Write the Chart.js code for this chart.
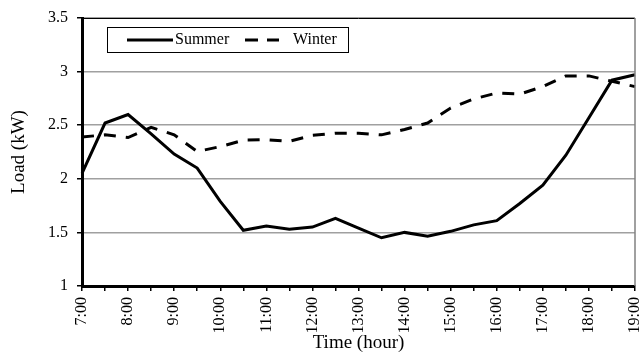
<!DOCTYPE html>
<html>
<head>
<meta charset="utf-8">
<script src="https://cdn.jsdelivr.net/npm/chart.js@4/dist/chart.umd.min.js"></script>
<style>
html,body{margin:0;padding:0;background:#fff;}
#wrap{width:642px;height:354px;position:relative;}
</style>
</head>
<body>
<div id="wrap"><canvas id="c" width="642" height="354"></canvas></div>
<script>
const categories = ["7:00","7:30","8:00","8:30","9:00","9:30","10:00","10:30","11:00","11:30","12:00","12:30","13:00","13:30","14:00","14:30","15:00","15:30","16:00","16:30","17:00","17:30","18:00","18:30","19:00"];
const summer = [2.05,2.52,2.60,2.42,2.23,2.10,1.79,1.52,1.56,1.53,1.55,1.63,1.54,1.45,1.50,1.465,1.51,1.57,1.61,1.77,1.94,2.22,2.57,2.92,2.97];
const winter = [2.39,2.41,2.385,2.48,2.41,2.255,2.30,2.36,2.365,2.35,2.405,2.425,2.425,2.41,2.46,2.52,2.66,2.745,2.80,2.79,2.86,2.96,2.96,2.91,2.86];
const yTicks = [1,1.5,2,2.5,3,3.5];
const seriesNames = ["Summer","Winter"];
const xTitle = "Time (hour)";
const yTitle = "Load (kW)";

const FONT = "'Liberation Serif', 'Times New Roman', serif";

const frame = {
  id: 'frame',
  afterDraw(chart) {
    const {ctx, chartArea: a} = chart;
    ctx.save();
    ctx.strokeStyle = '#000';
    ctx.lineWidth = 1;
    ctx.beginPath();
    ctx.moveTo(a.left, a.top + 0.5);
    ctx.lineTo(a.right, a.top + 0.5);
    ctx.stroke();
    ctx.strokeStyle = '#808080';
    ctx.lineWidth = 1.5;
    ctx.beginPath();
    ctx.moveTo(a.right, a.top);
    ctx.lineTo(a.right, a.bottom);
    ctx.stroke();
    // legend
    const lx = 107, ly = 27, lw = 241, lh = 25;
    ctx.fillStyle = '#fff';
    ctx.fillRect(lx, ly, lw, lh);
    ctx.strokeStyle = '#000';
    ctx.lineWidth = 1;
    ctx.strokeRect(lx + 0.5, ly + 0.5, lw, lh);
    const cy = ly + lh / 2 + 0.5;
    ctx.lineWidth = 3;
    ctx.setLineDash([]);
    ctx.beginPath();
    ctx.moveTo(127, cy); ctx.lineTo(173, cy);
    ctx.stroke();
    ctx.setLineDash([13, 9]);
    ctx.beginPath();
    ctx.moveTo(245, cy); ctx.lineTo(279, cy);
    ctx.stroke();
    ctx.setLineDash([]);
    ctx.fillStyle = '#000';
    ctx.font = "16px " + FONT;
    ctx.textBaseline = 'middle';
    ctx.textAlign = 'left';
    ctx.fillText(seriesNames[0], 175, cy);
    ctx.fillText(seriesNames[1], 293, cy);
    ctx.restore();
  }
};

new Chart(document.getElementById('c'), {
  type: 'line',
  data: {
    labels: categories,
    datasets: [
      {label: seriesNames[1], data: winter, borderColor: '#000', borderWidth: 3, borderDash: [12, 10], pointRadius: 0, tension: 0, fill: false},
      {label: seriesNames[0], data: summer, borderColor: '#000', borderWidth: 3, pointRadius: 0, tension: 0, fill: false}
    ]
  },
  options: {
    responsive: false,
    animation: false,
    layout: {padding: {top: 18, right: 0, left: 0, bottom: 0}},
    plugins: {legend: {display: false}, tooltip: {enabled: false}},
    scales: {
      x: {
        type: 'category',
        offset: false,
        afterFit(s) { s.height = 68; s.paddingRight = 7; s.paddingLeft = 0; },
        grid: {display: true, drawOnChartArea: false, drawTicks: true, tickLength: 5, color: '#000', tickColor: '#000', lineWidth: 1.5},
        border: {display: true, color: '#000', width: 3},
        ticks: {
          autoSkip: false, maxRotation: 90, minRotation: 90, padding: 6,
          color: '#000', font: {family: FONT, size: 16},
          callback(v, i) { const l = categories[i]; return l.endsWith(':00') ? l : ''; }
        },
        title: {display: true, text: xTitle, color: '#000', font: {family: FONT, size: 19}, padding: {top: 0, bottom: 0}}
      },
      y: {
        min: 1, max: 3.5,
        afterFit(s) { s.width = 82; s.paddingTop = 0; s.paddingBottom = 0; },
        afterBuildTicks(s) { s.ticks = yTicks.map(v => ({value: v})); },
        grid: {color: '#a0a0a0', lineWidth: 1.5, tickLength: 5, tickColor: '#000', drawTicks: true},
        border: {display: true, color: '#000', width: 3},
        ticks: {padding: 9, color: '#000', font: {family: FONT, size: 16}, callback(v) { return String(v); }},
        title: {display: true, text: yTitle, color: '#000', font: {family: FONT, size: 19}, padding: {top: 8, bottom: 0}}
      }
    }
  },
  plugins: [frame]
});
</script>
</body>
</html>
